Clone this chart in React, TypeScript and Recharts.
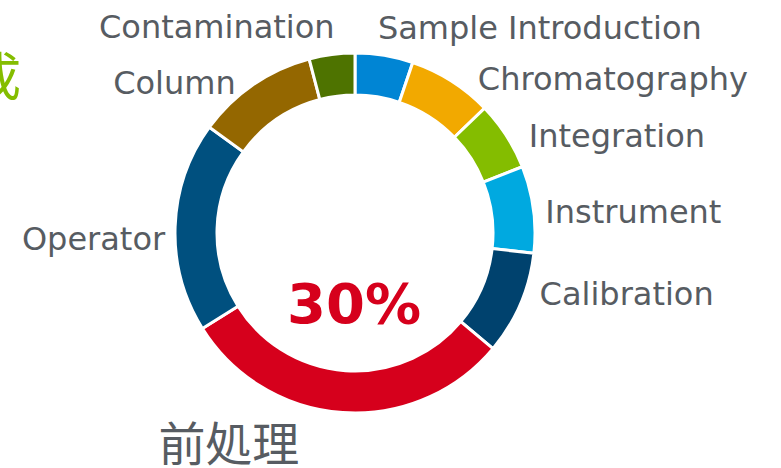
import React from "react";
import { PieChart, Pie, Cell } from "recharts";

const categories = [
  "Sample Introduction",
  "Chromatography",
  "Integration",
  "Instrument",
  "Calibration",
  "前処理",
  "Operator",
  "Column",
  "Contamination",
];
const shares = [5.2, 7.6, 6.2, 7.8, 9.3, 30, 18.9, 10.9, 4.1];
const centerLabel = "30%";
const titleFragment = "成";

const COLORS = [
  "#0085d4",
  "#f2a900",
  "#84bd00",
  "#00a9e0",
  "#00426e",
  "#d6001c",
  "#00507f",
  "#946700",
  "#4e7300",
];

const data = categories.map((name, i) => ({ name, value: shares[i] }));

// label nudges relative to a radial anchor point
const LABEL_STYLE: Record<string, { dx: number; dy: number; anchor: string; size: number; family: string }> = {
  "Sample Introduction": { dx: -8, dy: -7, anchor: "start", size: 32, family: "DejaVu Sans" },
  Chromatography: { dx: 21, dy: 17, anchor: "start", size: 32, family: "DejaVu Sans" },
  Integration: { dx: 14, dy: 17, anchor: "start", size: 32, family: "DejaVu Sans" },
  Instrument: { dx: 2, dy: 15, anchor: "start", size: 32, family: "DejaVu Sans" },
  Calibration: { dx: 10, dy: -3, anchor: "start", size: 32, family: "DejaVu Sans" },
  "前処理": { dx: -113, dy: 38, anchor: "middle", size: 47, family: "Noto Sans CJK JP" },
  Operator: { dx: 0, dy: 24, anchor: "end", size: 32, family: "DejaVu Sans" },
  Column: { dx: -12, dy: 18, anchor: "end", size: 32, family: "DejaVu Sans" },
  Contamination: { dx: 4, dy: -7, anchor: "end", size: 32, family: "DejaVu Sans" },
};

const RAD = Math.PI / 180;

const renderLabel = (props: any) => {
  const { cx, cy, midAngle, outerRadius, name } = props;
  const r = outerRadius + 10;
  const x = cx + r * Math.cos(-midAngle * RAD);
  const y = cy + r * Math.sin(-midAngle * RAD);
  const s = LABEL_STYLE[name];
  return (
    <text
      x={x + s.dx}
      y={y + s.dy}
      textAnchor={s.anchor as any}
      fontFamily={s.family}
      fontSize={s.size}
      fill="#575c62"
    >
      {name}
    </text>
  );
};

export default function App() {
  return (
    <div style={{ position: "absolute", left: 0, top: 0, width: 781, height: 468, background: "#fff" }}>
      <PieChart width={781} height={468} margin={{ top: 0, right: 0, bottom: 0, left: 0 }}>
        <text x={-31} y={96} fontFamily="Noto Sans CJK JP" fontSize={52} fill="#84bd00">
          {titleFragment}
        </text>
        <Pie
          data={data}
          dataKey="value"
          nameKey="name"
          cx={355}
          cy={233}
          innerRadius={138}
          outerRadius={180}
          startAngle={90}
          endAngle={-270}
          stroke="#ffffff"
          strokeWidth={3}
          label={renderLabel}
          labelLine={false}
          isAnimationActive={false}
        >
          {data.map((d, i) => (
            <Cell key={d.name} fill={COLORS[i]} />
          ))}
        </Pie>
        <text
          x={354}
          y={323}
          textAnchor="middle"
          fontFamily="DejaVu Sans"
          fontWeight="bold"
          fontSize={56}
          fill="#d6001c"
        >
          {centerLabel}
        </text>
      </PieChart>
    </div>
  );
}
